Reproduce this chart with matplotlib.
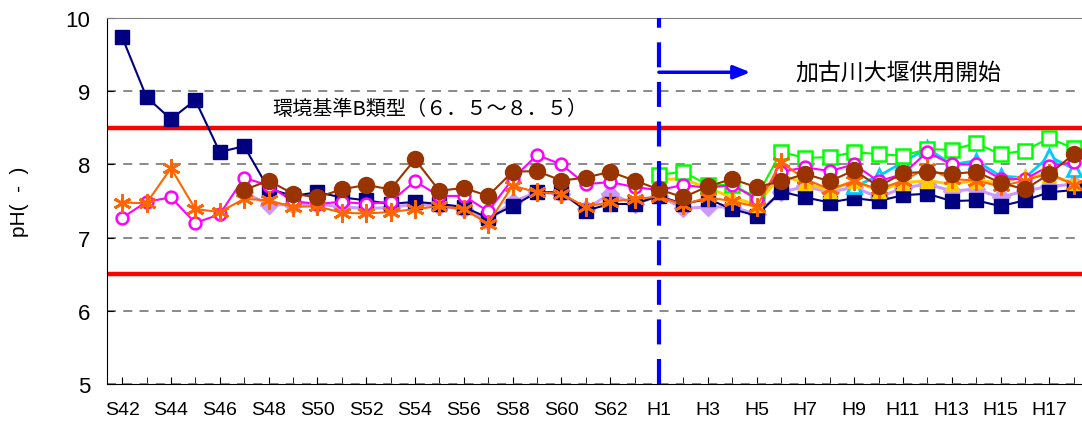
import numpy as np
import matplotlib
matplotlib.use("Agg")
import matplotlib.pyplot as plt

plt.rcParams['font.family'] = ['Liberation Sans', 'Noto Sans CJK JP', 'DejaVu Sans']

# Years S42..S63, H1..H18
years = ["S%d" % y for y in range(42, 64)] + ["H%d" % y for y in range(1, 19)]
nan = np.nan

navy = [9.74, 8.92, 8.62, 8.88, 8.17, 8.25, 7.67, 7.57, 7.62, 7.55,
        7.51, 7.46, 7.49, 7.46, 7.42, 7.27, 7.43, 7.62, 7.62, 7.37,
        7.46, 7.46, 7.57, 7.46, 7.53, 7.39, 7.30, 7.63, 7.55, 7.48,
        7.54, 7.50, 7.58, 7.60, 7.50, 7.51, 7.43, 7.51, 7.62, 7.65]
orange = [7.48, 7.47, 7.95, 7.39, 7.35, 7.53, 7.51, 7.42, 7.43, 7.34,
          7.33, 7.35, 7.39, 7.43, 7.39, 7.19, 7.71, 7.62, 7.60, 7.42,
          7.49, 7.53, 7.56, 7.45, 7.55, 7.50, 7.42, 8.03, 7.80, 7.66,
          7.77, 7.66, 7.78, 7.95, 7.80, 7.78, 7.70, 7.78, 7.88, 7.72]
magenta = [7.27, 7.49, 7.55, 7.20, 7.32, 7.82, 7.71, 7.50, 7.46, 7.49,
           7.46, 7.49, 7.77, 7.57, 7.57, 7.36, 7.80, 8.13, 8.00, 7.73,
           7.76, 7.69, 7.65, 7.72, 7.68, 7.72, 7.53, 7.90, 7.96, 7.91,
           8.00, 7.77, 7.87, 8.17, 8.00, 8.00, 7.80, 7.80, 7.98, 8.03]
brown = [nan, nan, nan, nan, nan, 7.65, 7.78, 7.60, 7.55, 7.66,
         7.72, 7.66, 8.07, 7.64, 7.68, 7.57, 7.90, 7.91, 7.78, 7.82,
         7.90, 7.78, 7.66, 7.55, 7.70, 7.80, 7.69, 7.77, 7.87, 7.77,
         7.92, 7.70, 7.88, 7.90, 7.87, 7.90, 7.75, 7.66, 7.87, 8.14]
lavender = [nan, nan, nan, nan, nan, 7.62, 7.45, 7.45, 7.46, 7.42,
            7.40, 7.41, 7.46, 7.43, 7.39, 7.23, 7.49, 7.62, 7.60, 7.39,
            7.60, 7.46, 7.57, 7.40, 7.42, 7.42, 7.32, 7.62, 7.70, 7.62,
            7.69, 7.55, 7.68, 7.73, 7.64, 7.66, 7.55, 7.64, 7.70, 7.73]
green = [nan] * 22 + [7.86, 7.90, 7.72, 7.72, 7.55, 8.17, 8.09, 8.10,
                      8.17, 8.14, 8.12, 8.21, 8.20, 8.29, 8.14, 8.19, 8.36, 8.22]
gold = [nan] * 22 + [7.80, 7.80, 7.68, 7.55, 7.45, 7.85, 7.75, 7.64,
                     7.78, 7.64, 7.75, 7.78, 7.73, 7.78, 7.75, 7.84, 7.85, 7.75]
cyan = [nan] * 30 + [7.70, 7.84, 8.03, 8.22, 8.00, 8.05, 7.84, 7.82, 8.11, 7.94]

x = np.arange(len(years))

fig = plt.figure(figsize=(10.82, 4.31), dpi=100)
ax = fig.add_axes([0.0989, 0.1067, 0.9011, 0.849])

# environmental standard lines
ax.axhline(8.5, color="#FF0000", lw=3.2, zorder=2)
ax.axhline(6.5, color="#FF0000", lw=3.2, zorder=2)

ax.plot(x, lavender, color="#CC99FF", lw=2.2, marker="D", ms=9.5, mfc="#CC99FF", mec="#CC99FF", zorder=3)
ax.plot(x, navy, color="#000080", lw=1.5, marker="s", ms=9.5, mfc="#000080", mec="#000080", zorder=4)
ax.plot(x, cyan, color="#00CCFF", lw=2, marker="^", ms=9.5, mfc="white", mec="#00CCFF", mew=2, zorder=4)
ax.plot(x, gold, color="#FFCC00", lw=2.2, marker="^", ms=9.5, mfc="#FFCC00", mec="#FFCC00", zorder=4)
ax.plot(x, green, color="#00FF00", lw=1.5, marker="s", ms=10, mfc="white", mec="#00FF00", mew=1.8, zorder=5)
ax.plot(x, magenta, color="#FF00FF", lw=1.5, marker="o", ms=8.5, mfc="white", mec="#FF00FF", mew=1.8, zorder=5)
ax.plot(x, orange, color="#FF6600", lw=1.5, marker=(6, 2, 0), ms=13, mec="#FF6600", mew=2, zorder=6)
ax.plot(x, brown, color="#993300", lw=1.5, marker="o", ms=11.5, mfc="#993300", mec="#993300", zorder=7)

# start of Kakogawa weir
ax.axvline(years.index("H1"), color="#0000FF", lw=3, ls=(0, (6, 3.5)), zorder=8)
ax.annotate("", xy=(25.75, 9.26), xytext=(22.0, 9.26),
            arrowprops=dict(arrowstyle="-|>,head_length=1.0,head_width=0.4", color="#0000FF", lw=2.5, shrinkA=0, shrinkB=0))
ax.text(31.8, 9.26, "加古川大堰供用開始", ha="center", va="center", fontsize=16.5,
        family=["Noto Sans CJK JP", "DejaVu Sans"])
ax.text(12.6, 8.76, "環境基準B類型（６．５～８．５）", ha="center", va="center", fontsize=14.5,
        family=["Noto Sans CJK JP", "DejaVu Sans"])

ax.set_xlim(-0.62, 39.34)
ax.set_ylim(5, 10)
ax.set_yticks([5, 6, 7, 8, 9, 10])
ax.set_xticks(x[::2])
ax.set_xticklabels(years[::2], fontsize=14)
ax.set_xticks(x, minor=True)
ax.tick_params(axis="y", direction="in", labelsize=16, length=5, pad=12)
ax.tick_params(axis="x", which="both", direction="in", length=5, pad=12)
ax.set_ylabel("pH(  -  )", fontsize=15, labelpad=26)

ax.yaxis.grid(True, color="#808080", ls=(0, (5, 4)), lw=1.3)
ax.set_axisbelow(True)
ax.spines["right"].set_visible(False)
ax.spines["top"].set_color("#808080")

fig.savefig("out.png", dpi=100)
